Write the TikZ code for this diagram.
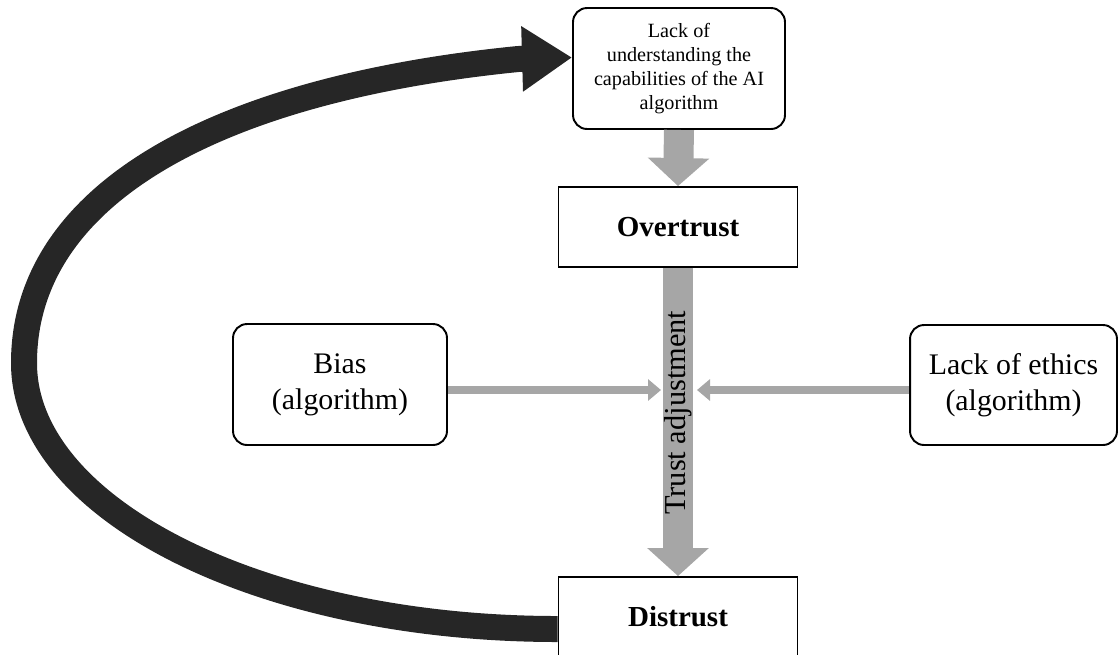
\documentclass[tikz,border=0pt]{standalone}
\usepackage{fontspec}
\setmainfont{Liberation Serif}
\usepackage{tikz}
\usetikzlibrary{arrows.meta}
\usetikzlibrary{calc}
\usepackage{xcolor}
\definecolor{arrowgray}{HTML}{A6A6A6}
\definecolor{loopblack}{HTML}{262626}

\begin{document}
\begin{tikzpicture}[x=0.02cm, y=-0.02cm,
		bigtext/.style={font=\fontsize{17}{20.5}\selectfont},
		roundbox/.style={draw, line width=1.1pt, rounded corners=0.28cm, fill=white, align=center, inner sep=2pt},
		sharpbox/.style={draw, line width=1.1pt, fill=white, minimum width=4.78cm, minimum height=1.6cm, font=\fontsize{16.5}{20}\selectfont\bfseries},
		bigflow/.style={color=arrowgray, line width=0.6cm, -{Triangle[width=1.2cm, length=0.56cm]}},
		sideflow/.style={color=arrowgray, line width=0.17cm, -{Triangle[width=0.42cm, length=0.26cm]}}]
		
		% frame of the figure
		\clip (0,0) rectangle (1118,654);
		
		% boxes
		\node[roundbox, minimum width=4.24cm, minimum height=2.42cm, font=\fontsize{11.5}{13.6}\selectfont] (lack) at (679,68.5) {Lack of\\understanding the\\capabilities of the AI\\algorithm};
		\node[sharpbox] (over) at (678,227) {Overtrust};
		\node[sharpbox] (dis) at (678,617) {Distrust};
		\node[roundbox, bigtext, minimum width=4.28cm, minimum height=2.42cm] (bias) at (340,384.5) {Bias\\(algorithm)};
		\node[roundbox, bigtext, minimum width=4.14cm, minimum height=2.4cm] (ethics) at (1013.5,385) {Lack of ethics\\(algorithm)};
		
		% where the side arrows meet the trust bar
		\coordinate (inL) at (661,390);
		\coordinate (inR) at (697,390);
		
		% gray flows
		\draw[bigflow] (lack.south) -- (over.north);
		\draw[bigflow] (over.south) -- (dis.north)
		node[pos=0.47, rotate=90, text=black, font=\fontsize{17.3}{20}\selectfont] (adj) {Trust adjustment};
		\draw[sideflow] (bias.east |- inL) -- (inL);
		\draw[sideflow] (ethics.west |- inR) -- (inR);
		
		% loop from distrust back to the top box
		\draw[loopblack, line width=0.52cm, -{Triangle[width=1.24cm, length=1.0cm]}]
		($(dis.west)+(0,12)$) .. controls (263,629) and (24,510) .. (24,363)
		.. controls (24,193) and (218,89) .. (518,59) -- ($(lack.west)+(0,-11)$);
		
	\end{tikzpicture}
\end{document}
